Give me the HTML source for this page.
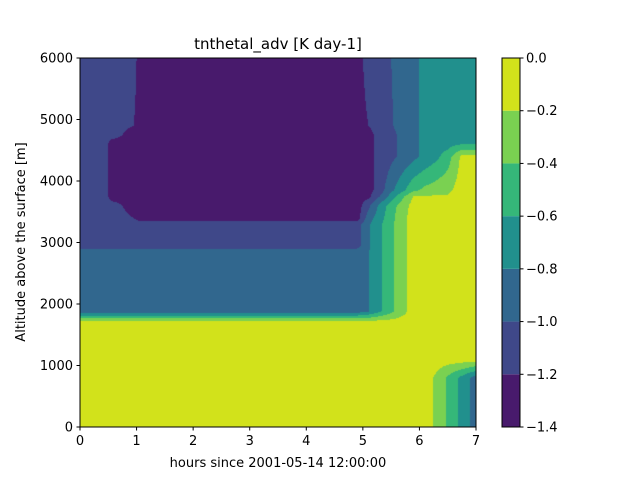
<!DOCTYPE html>
<html><head><meta charset="utf-8"><style>
body{margin:0;background:#fff;width:640px;height:480px;overflow:hidden;font-family:"Liberation Sans","DejaVu Sans",sans-serif}
svg text{font-family:"DejaVu Sans","Liberation Sans",sans-serif}
</style></head><body>
<svg id="chart" width="640" height="480" xmlns="http://www.w3.org/2000/svg">
<text x="278" y="49" font-size="15" text-anchor="middle">tnthetal_adv [K day-1]</text>
<foreignObject x="80" y="58" width="396" height="369">
<canvas id="cv" width="396" height="369" xmlns="http://www.w3.org/1999/xhtml" style="display:block"></canvas>
</foreignObject>
<rect x="80" y="58" width="396" height="369" fill="none" stroke="#000" stroke-width="1"/>
<g id="xaxis"></g>
<g id="yaxis"></g>
<text x="278" y="467" font-size="13" text-anchor="middle">hours since 2001-05-14 12:00:00</text>
<text transform="translate(25,242) rotate(-90)" font-size="13" text-anchor="middle">Altitude above the surface [m]</text>
<g id="cbar"></g>
</svg>
<script>
const times=[0,0.45,0.55,0.95,1.05,4.9,5.1,5.3,5.5,5.7,5.9,6.1,6.3,6.5,6.75,7.0];
const heights=[0,800,1100,1700,1880,2850,2950,3300,3400,3600,3750,3850,4400,4600,4750,4900,6000];
const levels=[-1.4,-1.2,-1.0,-0.8,-0.6,-0.4,-0.2,0.0];
const bandColors=['#481a6c','#3f4889','#31678e','#21908d','#35b779','#7ad151','#d2e21b'];
const xTicks=[0,1,2,3,4,5,6,7];
const yTicks=[0,1000,2000,3000,4000,5000,6000];
const cbTicks=['0.0','\u22120.2','\u22120.4','\u22120.6','\u22120.8','\u22121.0','\u22121.2','\u22121.4'];
// values[row][col], rows = heights, cols = times
const values=[
[-.1,-.1,-.1,-.1,-.1,-.1,-.1,-.1,-.1,-.1,-.1,-.1,-.24,-.43,-.66,-.9],
[-.1,-.1,-.1,-.1,-.1,-.1,-.1,-.1,-.1,-.1,-.1,-.1,-.24,-.43,-.66,-.9],
[-.1,-.1,-.1,-.1,-.1,-.1,-.1,-.1,-.1,-.1,-.1,-.1,-.1,-.1,-.1,-.1],
[-.1,-.1,-.1,-.1,-.1,-.1,-.1,-.1,-.1,-.1,-.1,-.1,-.1,-.1,-.1,-.1],
[-.9,-.9,-.9,-.9,-.9,-.9,-.81,-.63,-.45,-.27,-.1,-.1,-.1,-.1,-.1,-.1],
[-.9,-.9,-.9,-.9,-.9,-.9,-.81,-.63,-.45,-.27,-.1,-.1,-.1,-.1,-.1,-.1],
[-1.1,-1.1,-1.1,-1.1,-1.1,-1.1,-.83,-.64,-.45,-.27,-.1,-.1,-.1,-.1,-.1,-.1],
[-1.1,-1.1,-1.1,-1.1,-1.1,-1.1,-.83,-.64,-.45,-.27,-.1,-.1,-.1,-.1,-.1,-.1],
[-1.1,-1.1,-1.1,-1.2,-1.3,-1.3,-.9,-.68,-.46,-.27,-.1,-.1,-.1,-.1,-.1,-.1],
[-1.1,-1.1,-1.1,-1.3,-1.3,-1.3,-1.05,-.75,-.5,-.3,-.12,-.1,-.1,-.1,-.1,-.1],
[-1.1,-1.1,-1.3,-1.3,-1.3,-1.3,-1.25,-1.0,-.72,-.45,-.18,-.18,-.18,-.18,-.1,-.1],
[-1.1,-1.1,-1.3,-1.3,-1.3,-1.3,-1.28,-1.1,-.85,-.65,-.45,-.35,-.3,-.25,-.1,-.1],
[-1.1,-1.1,-1.3,-1.3,-1.3,-1.3,-1.25,-1.15,-1.05,-.95,-.85,-.75,-.65,-.5,-.15,-.15],
[-1.1,-1.1,-1.3,-1.3,-1.3,-1.3,-1.25,-1.15,-1.05,-.95,-.85,-.75,-.7,-.68,-.6,-.6],
[-1.1,-1.1,-1.1,-1.3,-1.3,-1.3,-1.25,-1.15,-1.05,-.95,-.9,-.7,-.7,-.7,-.7,-.7],
[-1.1,-1.1,-1.1,-1.2,-1.3,-1.3,-1.2,-1.12,-1.02,-.92,-.9,-.7,-.7,-.7,-.7,-.7],
[-1.1,-1.1,-1.1,-1.1,-1.3,-1.3,-1.1,-1.1,-1.0,-.9,-.9,-.7,-.7,-.7,-.7,-.7]
];
const X0=80,X1=476,Y0=427,Y1=58;
function xs(h){return X0+(h-0)/(7-0)*(X1-X0);}
function ys(z){return Y0-(z-0)/(6000-0)*(Y0-Y1);}
function xinv(px){return px/(X1-X0)*7;}
function yinv(py){return (Y0-Y1-py)/(Y0-Y1)*6000;}
function idx(arr,v){for(let i=0;i<arr.length-2;i++){if(v<arr[i+1])return i;}return arr.length-2;}
function hex(c){return [parseInt(c.slice(1,3),16),parseInt(c.slice(3,5),16),parseInt(c.slice(5,7),16)];}
const rgb=bandColors.map(hex);
const cv=document.getElementById('cv');


const ctx=cv.getContext('2d');
const W=cv.width,H=cv.height;
const img=ctx.createImageData(W,H);
for(let py=0;py<H;py++){
  const z=yinv(py+0.5);const j=idx(heights,z);
  const fz=(z-heights[j])/(heights[j+1]-heights[j]);
  for(let px=0;px<W;px++){
    const h=xinv(px+0.5);const i=idx(times,h);
    const fx=(h-times[i])/(times[i+1]-times[i]);
    const v=(values[j][i]*(1-fx)+values[j][i+1]*fx)*(1-fz)+(values[j+1][i]*(1-fx)+values[j+1][i+1]*fx)*fz;
    let b=0;for(let k=1;k<levels.length-1;k++){if(v>=levels[k])b=k;}
    const c=rgb[b];const o=(py*W+px)*4;
    img.data[o]=c[0];img.data[o+1]=c[1];img.data[o+2]=c[2];img.data[o+3]=255;
  }
}
ctx.putImageData(img,0,0);
const NS='http://www.w3.org/2000/svg';
function mk(tag,attrs,parent,txt){const e=document.createElementNS(NS,tag);for(const k in attrs)e.setAttribute(k,attrs[k]);if(txt!==undefined)e.textContent=txt;parent.appendChild(e);return e;}
const xa=document.getElementById('xaxis');
xTicks.forEach(t=>{
  const l=mk('line',{x1:xs(t),x2:xs(t),y1:427,y2:430.5,stroke:'#000'},xa);
  
  
  const tx=mk('text',{x:xs(t),y:445,'font-size':13,'text-anchor':'middle'},xa,String(t));
  
  
});
const ya=document.getElementById('yaxis');
yTicks.forEach(t=>{
  const l=mk('line',{x1:76.5,x2:80,y1:ys(t),y2:ys(t),stroke:'#000'},ya);
  
  
  const tx=mk('text',{x:73,y:ys(t)+4.5,'font-size':13,'text-anchor':'end'},ya,String(t));
  
  
});
const cb=document.getElementById('cbar');
const CX=502,CW=18;
function cys(v){return Y0-(v-levels[0])/(levels[levels.length-1]-levels[0])*(Y0-Y1);}
bandColors.forEach((c,k)=>{
  const r=mk('rect',{x:CX,y:cys(levels[k+1]),width:CW,height:cys(levels[k])-cys(levels[k+1]),fill:c},cb);
  
  
});
mk('rect',{x:CX,y:58,width:CW,height:369,fill:'none',stroke:'#000'},cb);
levels.slice().reverse().forEach((v,k)=>{
  const l=mk('line',{x1:CX+CW,x2:CX+CW+3.5,y1:cys(v),y2:cys(v),stroke:'#000'},cb);
  
  
  const tx=mk('text',{x:CX+CW+6,y:cys(v)+4.5,'font-size':13},cb,cbTicks[k]);
  
  
});
</script>
</body></html>
